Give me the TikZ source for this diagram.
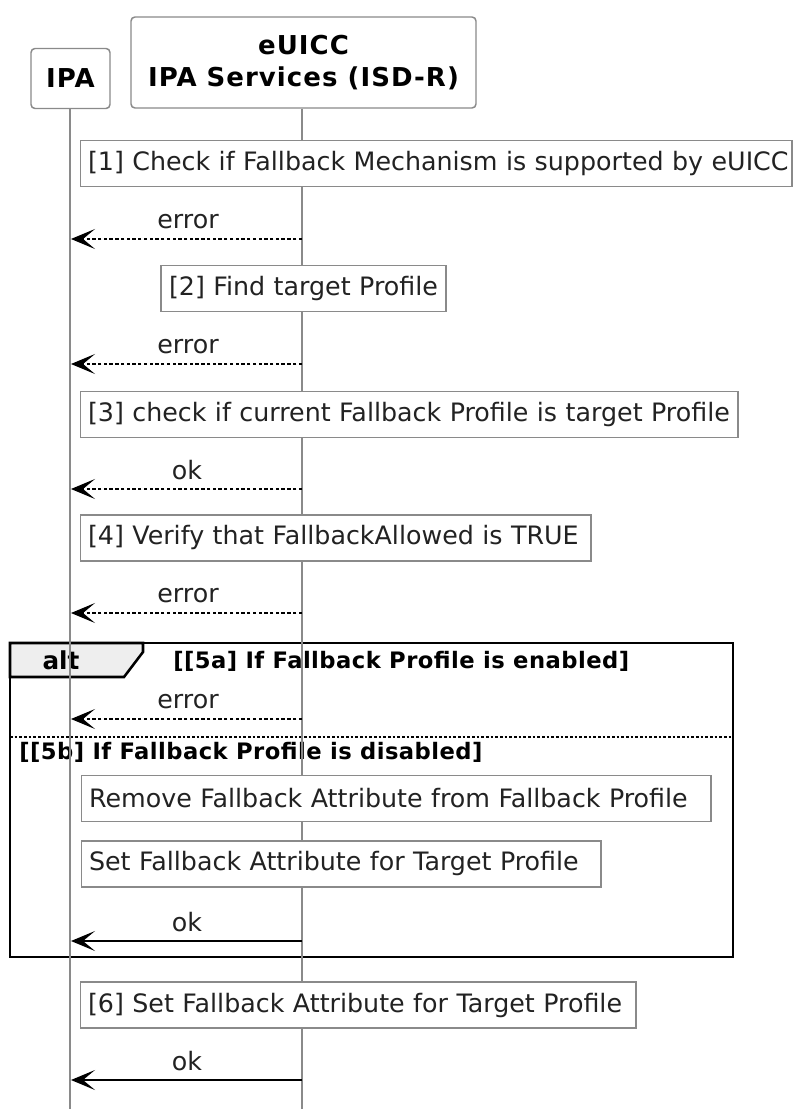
\documentclass[tikz,border=0pt]{standalone}
\usepackage{fontspec}
\setmainfont{DejaVu Sans}
\newfontfamily\headfam[LetterSpace=4]{DejaVu Sans}
\newfontfamily\grpfam[LetterSpace=2]{DejaVu Sans}
\usetikzlibrary{arrows.meta}
\definecolor{bordergray}{HTML}{8A8A8A}
\definecolor{lifegray}{HTML}{8A8A8A}
\definecolor{tabgray}{HTML}{EEEEEE}
\definecolor{txt}{HTML}{222222}
\newcommand{\notefont}{\fontsize{19}{22}\selectfont}
\newcommand{\headfont}{\headfam\fontsize{19.5}{24}\selectfont\bfseries}
\newcommand{\grpfont}{\grpfam\fontsize{17}{20}\selectfont\bfseries}
\begin{document}
\begin{tikzpicture}[x=0.75pt,y=-0.75pt,
  participant/.style={draw=bordergray, line width=1.1pt, rounded corners=3pt, fill=white, align=center, font=\headfont, text=black},
  notebox/.style={draw=bordergray, line width=1.1pt, fill=white, anchor=west, font=\notefont, text=txt, inner xsep=5.5pt, minimum height=34.5pt, align=left},
  lifeline/.style={draw=lifegray, line width=0.8pt},
  msglabel/.style={font=\notefont, text=txt, inner sep=0pt},
  reply/.style={draw=black, line width=0.8pt, dash pattern=on 2.5pt off 1.8pt, -{Stealth[length=18pt,width=15pt,inset=9pt]}},
  sync/.style={draw=black, line width=1.2pt, -{Stealth[length=18pt,width=15pt,inset=9pt]}},
  grplabel/.style={font=\grpfont, text=black, inner sep=0pt}
]
\useasboundingbox (0,0) rectangle (794,1109);
\fill[white] (0,0) rectangle (794,1109);

% alt group frame and tab
\draw[black, line width=1.9pt] (10,643) rectangle (733,957);
\filldraw[fill=tabgray, draw=black, line width=1.9pt] (10,643) -- (143,643) -- (143,652) -- (124,677) -- (10,677) -- cycle;
\node[font=\fontsize{18.5}{22}\selectfont\bfseries, inner sep=0pt] (alt) at (61,660) {alt};
\node[grplabel, anchor=west] (g5a) at (173,661) {[[5a] If Fallback Profile is enabled]};
\draw[black, line width=0.8pt, dash pattern=on 2pt off 1.5pt] (10,737) -- (733,737);
\node[grplabel, anchor=west] (g5b) at (19,752) {[[5b] If Fallback Profile is disabled]};

% participants
\node[participant, minimum width=59.25pt, minimum height=45pt] (ipa) at (70.5,78.5) {IPA};
\node[participant, minimum width=258.75pt, minimum height=68.25pt] (euicc) at (303.5,62.5) {eUICC\\IPA Services (ISD-R)};
\coordinate (ipaend) at (70,1109);
\coordinate (euiccend) at (302,1109);
\draw[lifeline] (ipa.south -| ipaend) -- (ipaend);
\draw[lifeline] (euicc.south -| euiccend) -- (euiccend);

% notes
\node[notebox, text width=522.5pt] (n1) at (80,163.5) {\mbox{[1] Check if Fallback Mechanism is supported by eUICC}};
\node[notebox, anchor=center, text width=203pt, align=center] (n2) at (303.5,288.5) {\mbox{[2] Find target Profile}};
\node[notebox, text width=482pt] (n3) at (80,414.5) {\mbox{[3] check if current Fallback Profile is target Profile}};
\node[notebox, text width=371.75pt] (n4) at (80,538) {\mbox{[4] Verify that FallbackAllowed is TRUE}};
\node[notebox, text width=461pt] (n5) at (81,798.5) {\mbox{Remove Fallback Attribute from Fallback Profile}};
\node[notebox, text width=378.5pt] (n6) at (81,864) {\mbox{Set Fallback Attribute for Target Profile}};
\node[notebox, text width=405.5pt] (n7) at (80,1005) {\mbox{[6] Set Fallback Attribute for Target Profile}};

% message endpoints
\foreach \y/\n in {239/a,364/b,489/c,613/d,719/e,941/f,1080/g}{
  \coordinate (s\n) at (302,\y);
  \coordinate (t\n) at (71,\y);
}
\draw[reply] (sa) -- (ta);
\node[msglabel] (la) at (188,222) {error};
\draw[reply] (sb) -- (tb);
\node[msglabel] (lb) at (188,347) {error};
\draw[reply] (sc) -- (tc);
\node[msglabel] (lc) at (187,470) {ok};
\draw[reply] (sd) -- (td);
\node[msglabel] (ld) at (188,596) {error};
\draw[reply] (se) -- (te);
\node[msglabel] (le) at (188,702) {error};
\draw[sync] (sf) -- (tf);
\node[msglabel] (lf) at (187,922) {ok};
\draw[sync] (sg) -- (tg);
\node[msglabel] (lg) at (187,1061) {ok};
\end{tikzpicture}
\end{document}
